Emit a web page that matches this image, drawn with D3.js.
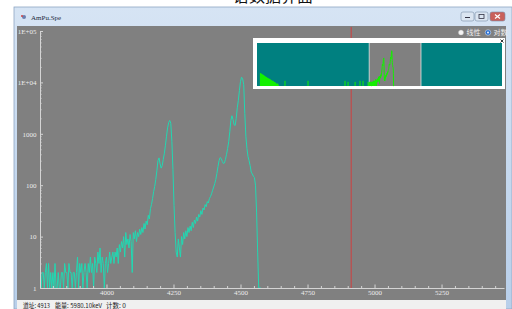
<!DOCTYPE html>
<html><head><meta charset="utf-8">
<script src="https://cdn.jsdelivr.net/npm/d3@7/dist/d3.min.js"></script>
<style>html,body{margin:0;padding:0;background:#fff;}svg{display:block;}</style>
</head><body>
<svg id="c" width="512" height="309"></svg>
<script>
// ---------- data ----------
const startChannel = 3752;
const channelStep = 4;
const counts = [
 2,0,2,2,0,2,3,0,3,0, 2,0,2,0,3,1,0,2,0,1,
 2,2,0,3,2,2,0,3,2,2, 0,2,2,0,2,4,0,3,2,3,
 0,2,3,2,0,3,2,4,2,3, 0,4,3,2,5,3,6,2,4,3,
 0,3,4,2,3,5,3,4,5,3, 5,4,6,3,7,5,8,6,10,4,
 12,7,9,6,11,8,2,12,9,13, 8,12,10,14,11,15,12,18,14,20,
 17,26,22,35,42,55,75,95,130,190, 300,340,260,215,240,320,420,600,900,1300,
 1650,1820,1600,700,200,40,12,5,4,9, 6,4,10,7,12,9,13,10,15,12,
 16,13,19,15,21,18,24,20,27,24, 32,27,36,33,42,38,48,45,55,60,
 68,80,92,108,130,170,230,300,345,330, 290,265,270,320,400,520,700,1100,1800,2250,
 1900,1500,1450,2000,3200,4500,7000,10500,12600,11800, 9000,2500,900,520,360,300,240,180,165,150,
 140,100,30,5,1,0,0
];
const totalChannels = 8192;
const lowStart = 96, lowStep = 32;
const lowCounts = [35,30,26,22,19,16,13,11,9,8,7,6,5,4,4,3,3,2,2,2,1,1];
const spikeChannels = [936, 1706, 2943, 3044, 3280, 3445, 3545, 3713];
const spikeCounts = [4, 4, 4, 3, 3, 4, 4, 3];
const xMin = 3752, xMax = 5483;
const xMajorTicks = [4000, 4250, 4500, 4750, 5000, 5250];
const xMinorStep = 50;
const yMajorTicks = [1, 10, 100, 1000, 1e4, 1e5];
const yTickLabels = ["1", "10", "100", "1000", "1E+04", "1E+05"];
const cursorChannel = 4913;
const cursorEnergy = "5980.10keV";
const cursorCount = 0;

// ---------- drawing ----------
const svg = d3.select("#c");
const serif = "'Liberation Serif','Times New Roman',serif";
const cjk = "'Noto Sans CJK SC','Noto Sans',sans-serif";

// caption above (cut off by the page edge, as in the reference)
svg.append("text").attr("x", 233).attr("y", 1.5).attr("font-family", cjk)
  .attr("font-size", 16).attr("fill", "#111").text("谱数据界面");

// window frame
const defs = svg.append("defs");
const g1 = defs.append("linearGradient").attr("id", "tb").attr("x1", 0).attr("y1", 0).attr("x2", 0).attr("y2", 1);
g1.append("stop").attr("offset", 0).attr("stop-color", "#d6e4f4");
g1.append("stop").attr("offset", 1).attr("stop-color", "#b8cfea");
svg.append("rect").attr("x", 14).attr("y", 7).attr("width", 498).attr("height", 302)
  .attr("fill", "url(#tb)").attr("stroke", "#8ea6c4").attr("stroke-width", 0.8);
svg.append("rect").attr("x", 17).attr("y", 26).attr("width", 489).attr("height", 274).attr("fill", "#808080");
svg.append("rect").attr("x", 17).attr("y", 300).attr("width", 489).attr("height", 9).attr("fill", "#f0f0f0");

// title
svg.append("circle").attr("cx", 24).attr("cy", 17).attr("r", 2).attr("fill", "#6a7fb0");
svg.append("circle").attr("cx", 22).attr("cy", 16).attr("r", 1).attr("fill", "#d04040");
svg.append("text").attr("x", 31).attr("y", 19.5).attr("font-family", serif).attr("font-size", 7)
  .attr("fill", "#1a2a40").text("AmPu.Spe");

// window buttons
const btns = [{x: 461, w: 13, c: "#dbe5f1"}, {x: 475, w: 13, c: "#dbe5f1"}, {x: 490, w: 15, c: "#c9605a"}];
btns.forEach(b => {
  svg.append("rect").attr("x", b.x).attr("y", 12).attr("width", b.w).attr("height", 9).attr("rx", 2)
    .attr("fill", b.c).attr("stroke", "#7a8ea8").attr("stroke-width", 0.6);
});
svg.append("line").attr("x1", 465).attr("x2", 470).attr("y1", 17.5).attr("y2", 17.5).attr("stroke", "#334").attr("stroke-width", 1);
svg.append("rect").attr("x", 479).attr("y", 14.5).attr("width", 5).attr("height", 4).attr("fill", "none").attr("stroke", "#334").attr("stroke-width", 0.8);
svg.append("path").attr("d", "M495,14.5L500,18.5M500,14.5L495,18.5").attr("stroke", "#fff").attr("stroke-width", 1.2);

// scales
const x = d3.scaleLinear().domain([xMin, xMax]).range([40, 504]);
const y = d3.scaleLog().domain([1, 1e5]).range([288, 31]).clamp(true);

const axisColor = "#d4d4d4";

// cursor line
svg.append("line").attr("x1", x(cursorChannel)).attr("x2", x(cursorChannel))
  .attr("y1", 27).attr("y2", 288).attr("stroke", "#c24a4a").attr("stroke-width", 1.2);

// spectrum
defs.append("clipPath").attr("id", "plot").append("rect").attr("x", 40).attr("y", 27).attr("width", 464).attr("height", 262);
const pts = counts.map((c, i) => [startChannel + i * channelStep, c]);
const line = d3.line().x(d => x(d[0])).y(d => y(Math.max(1, d[1])));
svg.append("path").attr("clip-path", "url(#plot)").attr("d", line(pts))
  .attr("fill", "none").attr("stroke", "#22d8b2").attr("stroke-width", 1);

// x axis
const xMinor = d3.range(xMin - (xMin % xMinorStep) + xMinorStep, xMax, xMinorStep).filter(v => !xMajorTicks.includes(v));
const xa = svg.append("g").attr("transform", "translate(0,288)")
  .call(d3.axisBottom(x).tickValues(xMajorTicks).tickSizeInner(-3.5).tickSizeOuter(0).tickPadding(2).tickFormat(d3.format("d")));
const xm = svg.append("g").attr("transform", "translate(0,288)")
  .call(d3.axisBottom(x).tickValues(xMinor).tickSizeInner(-2).tickSizeOuter(0).tickFormat(""));
xm.select(".domain").remove();

// y axis
const yMinor = [];
for (let d = 1; d < 1e5; d *= 10) for (let k = 2; k <= 9; k++) yMinor.push(d * k);
const ya = svg.append("g").attr("transform", "translate(40,0)")
  .call(d3.axisLeft(y).tickValues(yMajorTicks).tickSizeInner(-3).tickSizeOuter(0).tickPadding(3.5)
    .tickFormat((d, i) => yTickLabels[i]));
const ym = svg.append("g").attr("transform", "translate(40,0)")
  .call(d3.axisLeft(y).tickValues(yMinor).tickSizeInner(-1.5).tickSizeOuter(0).tickFormat(""));
ym.select(".domain").remove();

[xa, xm, ya, ym].forEach(g => {
  g.selectAll("path,line").attr("stroke", axisColor).attr("stroke-width", 1);
  g.selectAll("text").attr("fill", "#ececec").attr("font-family", serif).attr("font-size", 7);
});

// radio buttons
svg.append("circle").attr("cx", 461).attr("cy", 32.5).attr("r", 2.6).attr("fill", "#f4f4f4").attr("stroke", "#aaa").attr("stroke-width", 0.4);
svg.append("text").attr("x", 466.5).attr("y", 35).attr("font-family", cjk).attr("font-size", 7).attr("fill", "#eee").text("线性");
svg.append("circle").attr("cx", 488).attr("cy", 32.5).attr("r", 2.8).attr("fill", "#2a6fd0").attr("stroke", "#eee").attr("stroke-width", 0.5);
svg.append("circle").attr("cx", 488).attr("cy", 32.5).attr("r", 0.9).attr("fill", "#fff");
svg.append("text").attr("x", 493.5).attr("y", 35).attr("font-family", cjk).attr("font-size", 7).attr("fill", "#eee").text("对数");

// inset overview
svg.append("rect").attr("x", 253).attr("y", 38).attr("width", 252).attr("height", 51).attr("fill", "#fff");
svg.append("rect").attr("x", 257).attr("y", 43).attr("width", 245).attr("height", 43).attr("fill", "#008080");
const ix = d3.scaleLinear().domain([0, totalChannels]).range([257, 502]);
const iy = d3.scaleLog().domain([1, 1e5]).range([86, 43]).clamp(true);
svg.append("rect").attr("x", ix(xMin)).attr("y", 43).attr("width", ix(xMax) - ix(xMin)).attr("height", 43)
  .attr("fill", "#808080");
[xMin, xMax].forEach(v => svg.append("line").attr("x1", ix(v)).attr("x2", ix(v)).attr("y1", 43).attr("y2", 86)
  .attr("stroke", "#e8e8e8").attr("stroke-width", 0.8));
const green = "#14f000";
const lowPts = lowCounts.map((c, i) => [lowStart + i * lowStep, c]);
svg.append("path").attr("d", d3.area().x(d => ix(d[0])).y0(86).y1(d => iy(Math.max(1, d[1])))(lowPts))
  .attr("fill", green);
spikeChannels.forEach((ch, i) => svg.append("line").attr("x1", ix(ch)).attr("x2", ix(ch))
  .attr("y1", 86).attr("y2", iy(spikeCounts[i])).attr("stroke", green).attr("stroke-width", 1));
svg.append("path").attr("d", d3.line().x(d => ix(d[0])).y(d => iy(Math.max(1, d[1])))(pts))
  .attr("fill", "none").attr("stroke", green).attr("stroke-width", 1);
svg.append("path").attr("d", "M500.5,39.5L503.5,42.5M503.5,39.5L500.5,42.5").attr("stroke", "#222").attr("stroke-width", 0.9);

// status bar
const status = [[23, 27, `道址: ${cursorChannel}`], [55, 47, `能量: ${cursorEnergy}`], [106, 20, `计数: ${cursorCount}`]];
status.forEach(s => svg.append("text").attr("x", s[0]).attr("y", 307.5).attr("font-family", cjk)
  .attr("font-size", 6.5).attr("fill", "#222")
  .attr("textLength", s[1]).attr("lengthAdjust", "spacingAndGlyphs").text(s[2]));
</script>
</body></html>
